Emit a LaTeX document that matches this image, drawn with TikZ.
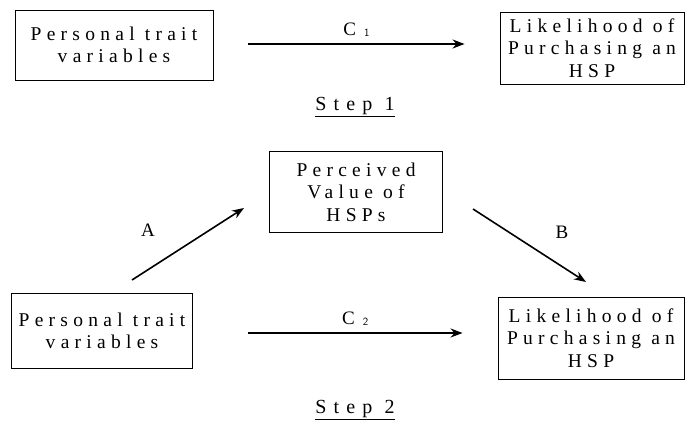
\documentclass[tikz,border=0pt]{standalone}
\usepackage{fontspec}
\setmainfont{Liberation Serif}
\newfontfamily\spaced[LetterSpace=27]{Liberation Serif}
\newfontfamily\widespaced[LetterSpace=36]{Liberation Serif}
\usetikzlibrary{arrows.meta,calc}
\begin{document}
\begin{tikzpicture}[x=1pt,y=-1pt,
  box/.style={draw,line width=0.9pt,inner sep=0pt,align=center,
    font=\spaced\fontsize{19.5}{22.5}\selectfont},
  arr/.style={line width=1.6pt,-{Stealth[length=12pt,width=9pt]}},
  lbl/.style={font=\fontsize{19}{20}\selectfont},
  steplbl/.style={font=\widespaced\fontsize{20}{20}\selectfont}]
\useasboundingbox (0,0) rectangle (685,435);
% Step 1
\node[box,minimum width=198pt,minimum height=70pt] (p1) at (114,45) {Personal trait\\variables};
\node[box,minimum width=184pt,minimum height=72pt] (l1) at (592,48) {Likelihood of\\Purchasing an\\HSP};
\coordinate (c1s) at ($(p1.east)+(35,-1)$);
\coordinate (c1e) at ($(l1.west)+(-35,-4)$);
\draw[arr] (c1s) -- (c1e)
  node[midway,above=3pt,lbl] (c1) {C\hspace{8pt}\raisebox{-1pt}{\fontsize{11}{11}\selectfont\sffamily 1}};
\node[steplbl] (s1) at (355,107) {\underline{Step 1}};
% Step 2
\node[box,minimum width=173pt,minimum height=81pt] (pv) at (356,192) {Perceived\\Value of\\HSPs};
\node[box,minimum width=181pt,minimum height=75pt] (p2) at (102,331) {Personal trait\\variables};
\node[box,minimum width=186pt,minimum height=82pt] (l2) at (591,338) {Likelihood of\\Purchasing an\\HSP};
\coordinate (aS) at (132,280);
\coordinate (aE) at (244,208);
\coordinate (bS) at (473,209);
\coordinate (bE) at (586,282);
\draw[arr] (aS) -- (aE);
\draw[arr] (bS) -- (bE);
\node[lbl] (a) at (148,230) {A};
\node[lbl] (b) at (562,232) {B};
\coordinate (c2s) at ($(p2.east)+(55,2)$);
\coordinate (c2e) at ($(l2.west)+(-35,-5)$);
\draw[arr] (c2s) -- (c2e)
  node[midway,above=3pt,lbl] (c2) {C\hspace{8pt}\raisebox{-1pt}{\fontsize{11}{11}\selectfont\sffamily 2}};
\node[steplbl] (s2) at (355,410) {\underline{Step 2}};
\end{tikzpicture}
\end{document}
